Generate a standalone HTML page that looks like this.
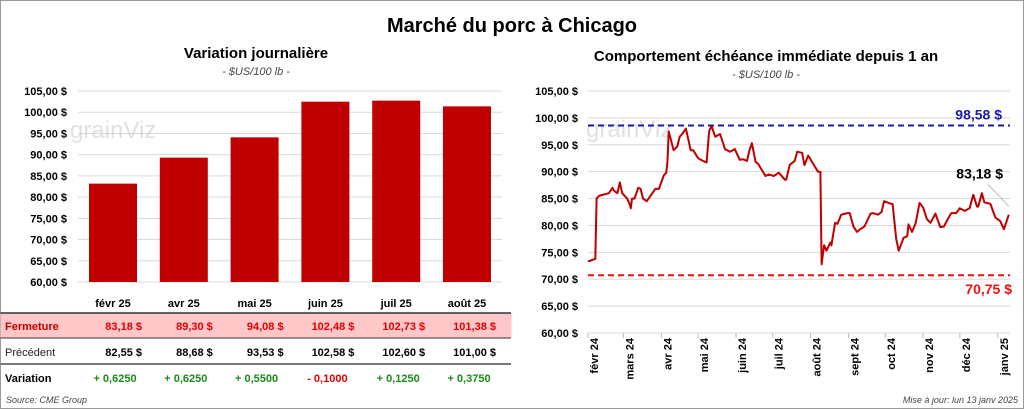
<!DOCTYPE html>
<html><head><meta charset="utf-8">
<style>
body{margin:0;background:#fff;}
svg{display:block;font-family:"Liberation Sans",sans-serif;}
</style></head>
<body>
<svg id="s" width="1024" height="409" viewBox="0 0 1024 409" xmlns="http://www.w3.org/2000/svg">
<rect x="0.5" y="0.5" width="1023" height="408" fill="#fff" stroke="#9a9a9a"/>
<text x="512" y="32" text-anchor="middle" font-size="20" font-weight="bold">Marché du porc à Chicago</text>
<text x="256" y="58" text-anchor="middle" font-size="15" font-weight="bold">Variation journalière</text>
<text x="256" y="75" text-anchor="middle" font-size="11" font-style="italic" fill="#444">- $US/100 lb -</text>
<text x="766" y="61" text-anchor="middle" font-size="15" font-weight="bold">Comportement échéance immédiate depuis 1 an</text>
<text x="766" y="78" text-anchor="middle" font-size="11" font-style="italic" fill="#444">- $US/100 lb -</text>
<g id="left"></g>
<g id="right"></g>
<text x="6" y="403" font-size="9" font-style="italic" fill="#444">Source: CME Group</text>
<text x="1018" y="403" text-anchor="end" font-size="9" font-style="italic" fill="#444">Mise à jour: lun 13 janv 2025</text>
</svg>
<script>
const NS="http://www.w3.org/2000/svg";
const barCats=["févr 25","avr 25","mai 25","juin 25","juil 25","août 25"];
const closeVals=[83.18,89.30,94.08,102.48,102.73,101.38];
const prevVals=[82.55,88.68,93.53,102.58,102.60,101.00];
const varVals=[0.6250,0.6250,0.5500,-0.1000,0.1250,0.3750];
const yTicks=[60,65,70,75,80,85,90,95,100,105];
const dayIdx=[0,6,7,9,17,20,21,24,26,28,32,34,35,36,38,41,43,45,48,51,55,58,62,64,65,66,70,73,75,77,80,84,86,90,94,97,99,101,104,108,112,116,120,124,127,130,132,134,137,139,145,148,152,156,161,162,165,169,171,175,177,180,184,188,190,191,193,195,198,199,202,204,207,212,214,217,220,222,226,231,233,237,240,242,248,249,252,254,258,261,262,265,268,271,274,277,280,284,288,291,295,297,301,304,308,312,315,318,319,322,324,329,333,337,340,344];
const priceVals=[73.3,73.8,85,85.5,86,87,86.5,86,88,86,85,84,83.2,85,85,87,86.8,85,84.5,85.5,86.8,86.8,89.3,89.8,92,97.5,94,94.7,96.5,97,98,94,94,92.5,92,91.7,97.5,98.5,96.5,97,94.2,93.7,94.2,92.2,92.3,92,94,95.3,91.8,91.5,89.2,89.5,89.2,89.8,88.5,88.5,91.3,92,93.7,93.5,91.2,93,91.5,90,90,72.8,76.3,75.3,76.8,76.3,80.5,80.3,82,82.3,82.3,79.8,78.8,79.2,79.8,82.2,82.3,82,82.5,84.5,84,84,77.5,75.3,77.7,78,80.2,78.8,80.5,84.2,83.3,81.2,80.5,82.2,79.7,79.8,81.5,82.3,82.3,83.2,82.7,83.2,85.7,83.5,83.5,86,84.3,84,81.5,80.8,79.3,82,83.18];
const monthLabels=["févr 24","mars 24","avr 24","mai 24","juin 24","juil 24","août 24","sept 24","oct 24","nov 24","déc 24","janv 25"];
const monthDays=[0,29,60,90,121,151,182,213,243,274,304,335];
const maxVal=98.58, minVal=70.75;
const fmt=v=>v.toFixed(2).replace('.',',');
function el(t,a,p){const e=document.createElementNS(NS,t);for(const k in a)e.setAttribute(k,a[k]);p.appendChild(e);return e;}
const L=document.getElementById('left');
const ly=v=>282-(v-60)*(282-91)/45;
const lx=i=>113+i*70.8;
yTicks.forEach(t=>{
  const g=el('line',{x1:78,x2:502,y1:ly(t),y2:ly(t),stroke:'#d9d9d9','stroke-width':1},L);
  
  
  const tx=el('text',{x:67,y:ly(t)+4,'text-anchor':'end','font-size':11,'font-weight':'bold'},L);
  tx.textContent=fmt(t)+' $';
  
  
});
el('rect',{x:0.5,y:313,width:511,height:25,fill:'#ffc7c7'},L);
el('line',{x1:0.5,x2:511,y1:313,y2:313,stroke:'#333','stroke-width':1.5},L);
el('line',{x1:0.5,x2:511,y1:338,y2:338,stroke:'#333','stroke-width':1},L);
el('line',{x1:0.5,x2:511,y1:364,y2:364,stroke:'#777','stroke-width':2},L);
const rl=(txt,y,c,b,nm)=>{const t=el('text',{x:5,y:y,'font-size':11,fill:c,'font-weight':b?'bold':'normal'},L);t.textContent=txt;};
rl('Fermeture',330,'#c00000',true,'row-label-close');
rl('Précédent',356,'#222',false,'row-label-previous');
rl('Variation',382,'#000',true,'row-label-variation');
barCats.forEach((c,i)=>{
  const v=closeVals[i];
  const r=el('rect',{x:lx(i)-24,y:ly(v),width:48,height:ly(60)-ly(v),fill:'#c00000'},L);
  
  
  const t=el('text',{x:lx(i),y:307,'text-anchor':'middle','font-size':11,'font-weight':'bold'},L);
  t.textContent=c;
  
  
  const a=el('text',{x:lx(i)+29,y:330,'text-anchor':'end','font-size':11,'font-weight':'bold',fill:'#e00000'},L);
  a.textContent=fmt(closeVals[i])+'  $';
  
  
  const b=el('text',{x:lx(i)+29,y:356,'text-anchor':'end','font-size':11,'font-weight':'bold',fill:'#000'},L);
  b.textContent=fmt(prevVals[i])+'  $';
  
  
  const d=varVals[i];
  const dv=el('text',{x:lx(i)+2,y:382,'text-anchor':'middle','font-size':11,'font-weight':'bold',fill:d>=0?'#1a8a1a':'#e00000'},L);
  dv.textContent=(d>=0?'+ ':'- ')+Math.abs(d).toFixed(4).replace('.',',');
  
  
});
const wm=el('text',{x:70,y:138,'font-size':24,fill:'#ccc',opacity:0.6},L);wm.textContent='grainViz';
const R=document.getElementById('right');
const ry=v=>333-(v-60)*(333-91)/45;
const rx=d=>588+d*(1010-588)/345;
yTicks.forEach(t=>{
  const g=el('line',{x1:588,x2:1010,y1:ry(t),y2:ry(t),stroke:'#d9d9d9','stroke-width':1},R);
  
  
  const tx=el('text',{x:578,y:ry(t)+4,'text-anchor':'end','font-size':11,'font-weight':'bold'},R);
  tx.textContent=fmt(t)+' $';
  
  
});
const wm2=el('text',{x:586,y:137,'font-size':24,fill:'#ccc',opacity:0.6},R);wm2.textContent='grainViz';
monthLabels.forEach((m,i)=>{
  const x=rx(monthDays[i]);
  el('line',{x1:x,x2:x,y1:333,y2:338,stroke:'#bbb'},R);
  const t=el('text',{transform:`translate(${x+10},${338}) rotate(-90)`,'text-anchor':'end','font-size':11,'font-weight':'bold'},R);
  t.textContent=m;
  
  
});
const mx=el('line',{x1:588,x2:1010,y1:ry(maxVal),y2:ry(maxVal),stroke:'#1a1ab0','stroke-width':2,'stroke-dasharray':'6,4'},R);


const mn=el('line',{x1:588,x2:1010,y1:ry(minVal),y2:ry(minVal),stroke:'#f01010','stroke-width':2,'stroke-dasharray':'6,4'},R);


const mxl=el('text',{x:1002,y:ry(maxVal)-6,'text-anchor':'end','font-size':14,'font-weight':'bold',fill:'#1a1ab0'},R);mxl.textContent=fmt(maxVal)+' $';


const mnl=el('text',{x:1012,y:ry(minVal)+19,'text-anchor':'end','font-size':14,'font-weight':'bold',fill:'#f01010'},R);mnl.textContent=fmt(minVal)+' $';


const p=el('polyline',{points:dayIdx.map((d,i)=>rx(d).toFixed(1)+','+ry(priceVals[i]).toFixed(1)).join(' '),fill:'none',stroke:'#c00000','stroke-width':2,'stroke-linejoin':'round'},R);


const last=priceVals[priceVals.length-1];
el('line',{x1:988,y1:ry(last)-24,x2:rx(dayIdx[dayIdx.length-1]),y2:ry(last)-2,stroke:'#aaa','stroke-width':0.8},R);
const ll=el('text',{x:1003,y:ry(last)-30,'text-anchor':'end','font-size':14,'font-weight':'bold'},R);ll.textContent=fmt(last)+' $';


</script>
</body></html>
